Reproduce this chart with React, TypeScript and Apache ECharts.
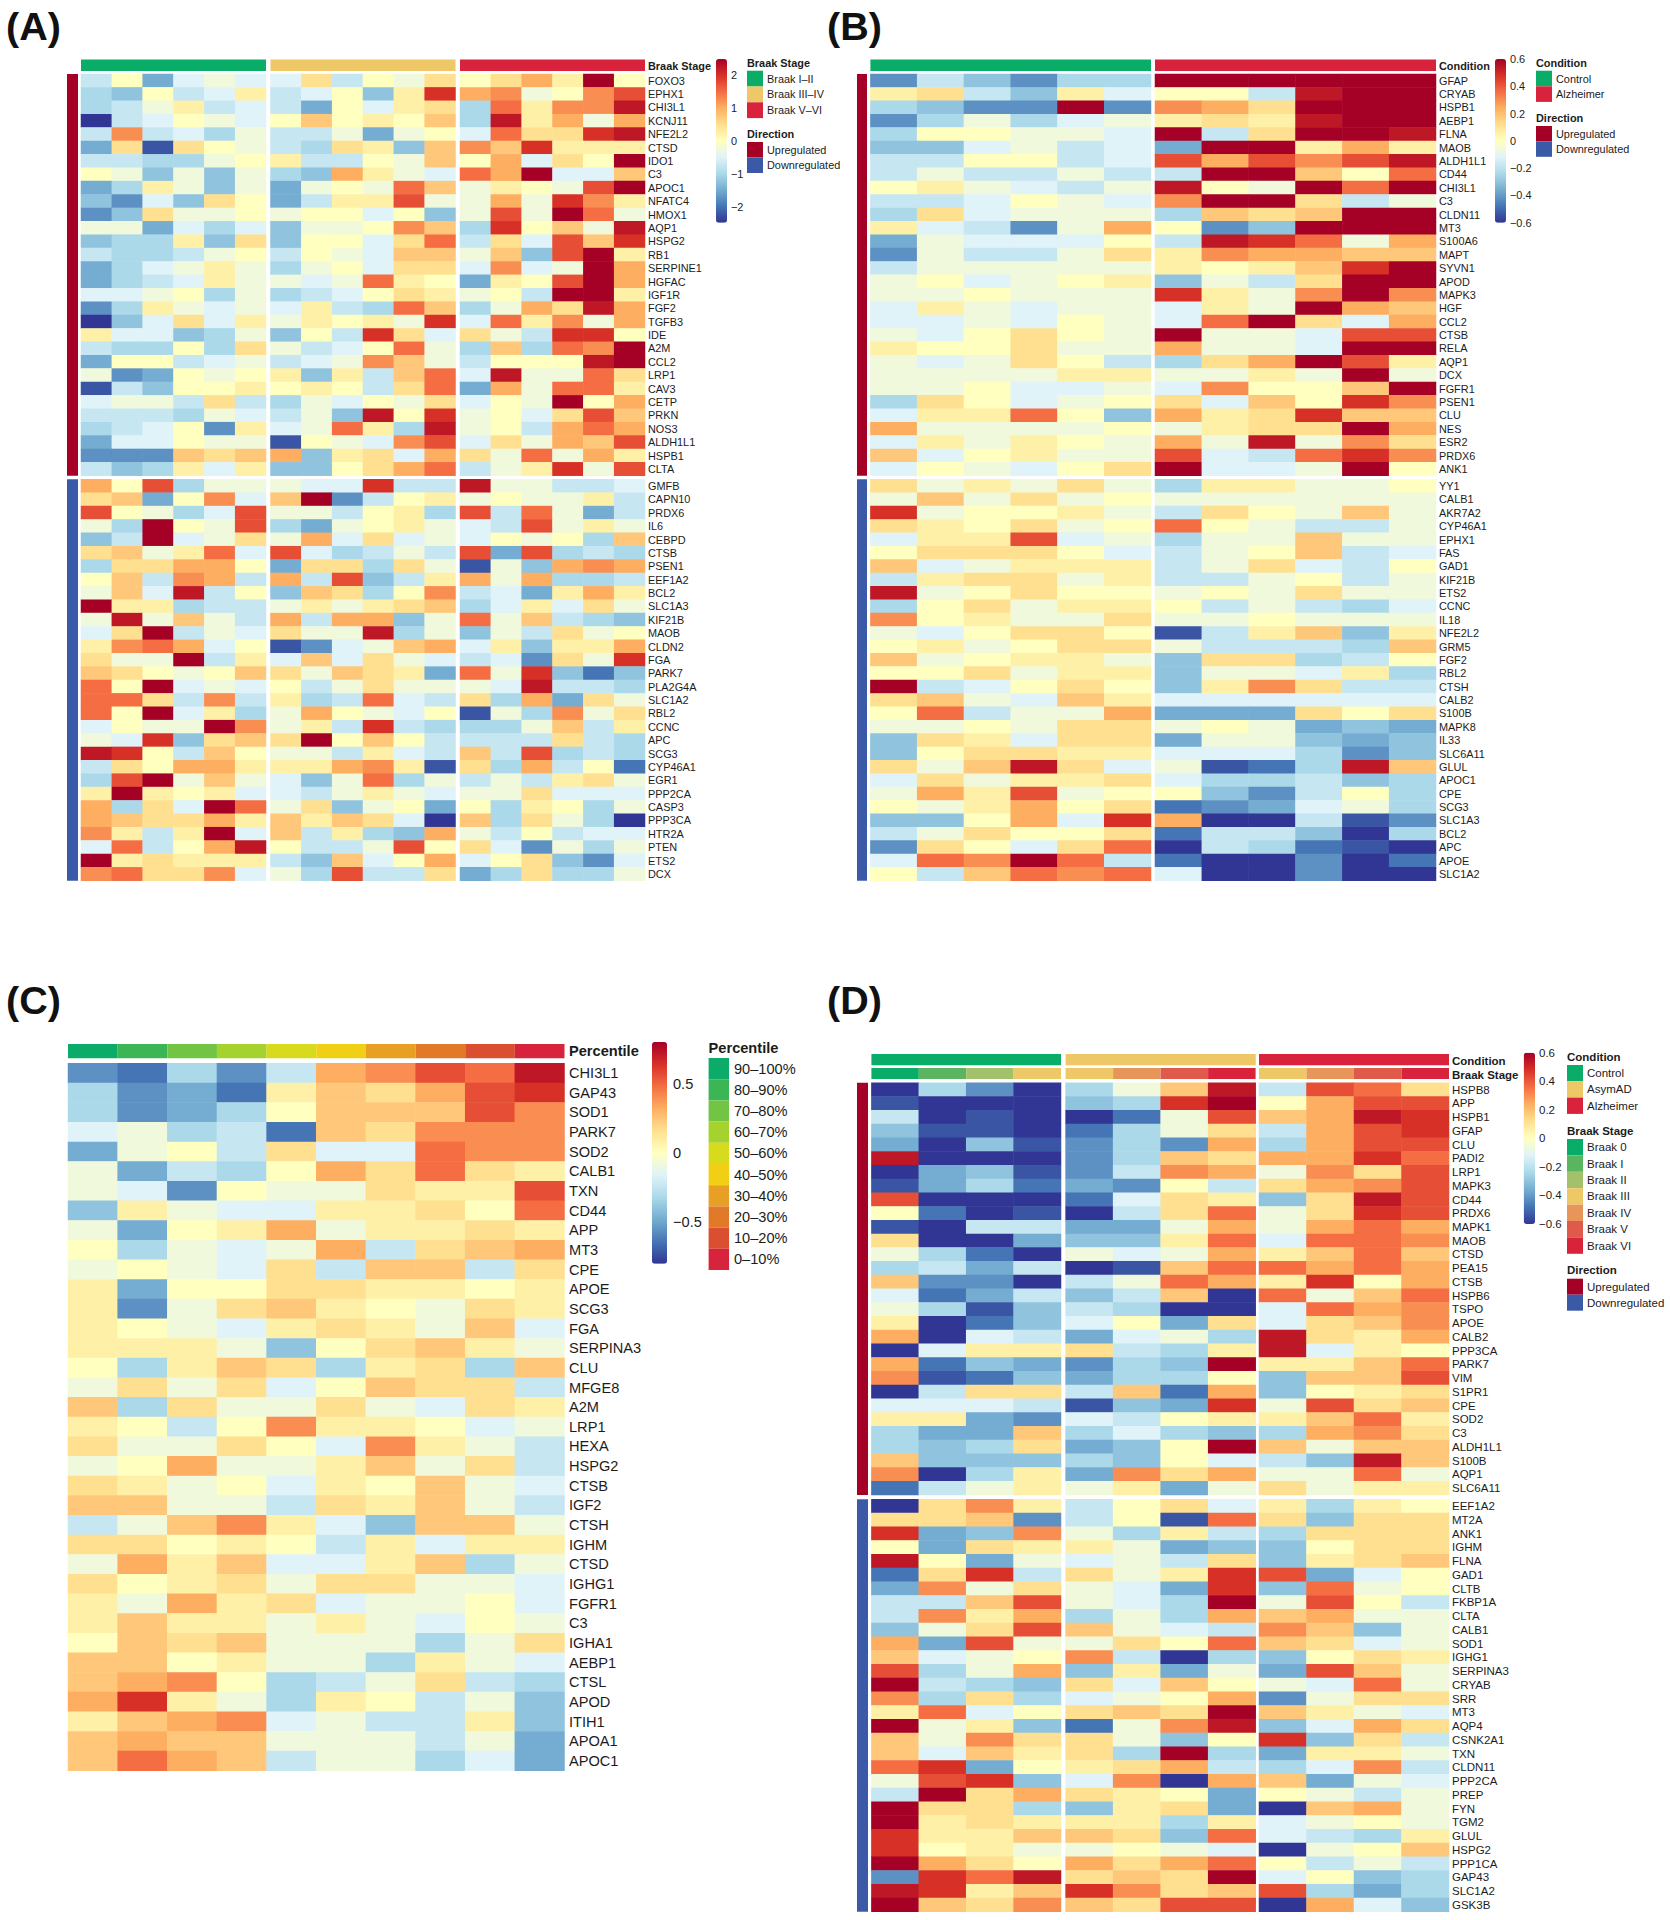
import React, { useEffect, useRef } from "react";
import * as echarts from "echarts";

const palette = ["#313695","#4575b4","#74add1","#abd9e9","#e0f3f8","#ffffbf","#fee090","#fdae61","#f46d43","#d73027","#a50026"];
const FONT = "Liberation Sans";
const INK = "#1c1c1c";
const UP = "#a50026";
const DOWN = "#3a5aa8";

const aUpGenes = ["FOXO3","EPHX1","CHI3L1","KCNJ11","NFE2L2","CTSD","IDO1","C3","APOC1","NFATC4","HMOX1","AQP1","HSPG2","RB1","SERPINE1","HGFAC","IGF1R","FGF2","TGFB3","IDE","A2M","CCL2","LRP1","CAV3","CETP","PRKN","NOS3","ALDH1L1","HSPB1","CLTA"];
const aUpLevels = [
[-3,0,-6,-2,-1,-2,-2,2,-3,0,-1,2,0,2,4,1,10,0],
[-4,-5,0,-3,-2,1,-3,-2,0,-5,1,8,4,5,-1,0,5,7],
[-4,-3,-1,1,-3,-2,-3,-6,0,-2,1,2,-4,6,1,5,5,9],
[-10,-3,-2,0,-1,-2,0,3,0,1,0,3,-4,9,1,4,-1,4],
[-3,5,-3,-2,-4,-1,-3,-3,-1,-6,-1,0,-2,6,2,2,8,9],
[-6,2,-9,2,0,-1,-3,-4,2,1,-5,3,5,3,8,1,1,1],
[-3,-3,-4,-4,-1,0,1,-3,-3,0,-1,3,0,4,-2,2,0,10],
[0,-1,-5,-1,-5,-1,-4,-5,4,1,-1,-2,6,4,10,-2,-2,3],
[-6,-4,1,-1,-5,-1,-6,-1,0,-1,6,3,-1,1,0,-1,7,10],
[-5,-7,-2,-5,2,0,-6,-3,1,1,7,-1,-1,4,-1,8,5,1],
[-7,-5,2,-1,-1,0,-1,0,0,-2,0,-5,-1,7,-1,10,6,-1],
[-1,-1,-6,-2,-4,-2,-5,-1,-1,0,5,3,-4,8,0,3,-1,9],
[-5,-4,-4,1,-5,2,-5,0,0,-2,2,6,-3,2,-2,7,3,8],
[-3,-4,-4,-3,-1,0,-3,0,-1,-2,3,3,-1,3,-5,7,10,1],
[-6,-4,-2,-1,1,-1,-4,-1,0,-2,2,2,-2,5,-2,-1,10,4],
[-6,-4,-3,-2,1,-1,-1,-2,-1,6,1,0,-6,1,0,7,10,4],
[-2,-2,-1,0,-4,-1,-4,-3,-2,0,2,1,-1,0,-3,10,10,1],
[-7,-4,1,-1,-2,-1,-2,1,-3,-4,6,3,-4,-1,4,2,9,4],
[-10,-5,-2,2,-2,1,-1,1,0,1,-1,8,-2,6,1,5,-1,4],
[1,-2,-2,-5,-4,-1,-5,0,-3,8,2,-2,2,-1,-3,8,8,0],
[-3,-4,-4,0,-4,2,-1,-3,-2,0,6,-1,-4,3,-4,6,5,10],
[-6,0,0,-3,-2,-1,-3,-2,-1,5,3,-1,-3,0,0,0,9,10],
[-1,-7,-6,0,-1,0,1,-5,1,-3,3,6,-2,9,-1,-1,6,2],
[-9,-3,-5,0,0,1,0,1,0,-3,2,6,-6,4,-1,6,6,1],
[-2,-1,-1,-3,2,-3,-4,-1,-2,0,-1,2,-2,0,-1,10,0,4],
[-3,-3,-3,-4,-1,-2,-3,-1,-5,9,0,8,-1,0,-2,2,7,3],
[-4,-3,-2,0,-7,1,-2,-1,6,1,-4,9,-1,0,-3,4,6,4],
[-6,-2,-2,0,-1,-1,-9,0,-1,-2,5,7,-2,2,-1,4,3,7],
[-7,-7,-7,3,2,3,4,-5,1,2,-2,4,2,-1,6,-1,4,1],
[-3,-5,-4,1,-2,1,-5,-5,0,2,4,6,-3,-1,1,8,-1,7],
];
const aDownGenes = ["GMFB","CAPN10","PRDX6","IL6","CEBPD","CTSB","PSEN1","EEF1A2","BCL2","SLC1A3","KIF21B","MAOB","CLDN2","FGA","PARK7","PLA2G4A","SLC1A2","RBL2","CCNC","APC","SCG3","CYP46A1","EGR1","PPP2CA","CASP3","PPP3CA","HTR2A","PTEN","ETS2","DCX"];
const aDownLevels = [
[4,0,7,-4,-1,-1,-1,-2,-2,8,-3,-3,9,-1,-1,-3,-3,-2],
[2,3,-6,0,5,-2,3,10,-7,-3,0,1,-1,0,-1,-1,1,-3],
[7,0,-1,-4,-2,7,-1,-1,-3,0,1,-4,7,-3,6,-1,-6,-3],
[-1,-4,10,0,-1,7,-4,-6,-1,0,1,-1,-2,-3,7,-1,1,-1],
[-5,-3,10,-2,-1,2,-1,4,-2,2,-2,-1,-2,0,-1,0,-4,3],
[2,3,-1,1,6,-2,7,-2,-4,-3,-1,-3,7,-6,7,-4,-3,-4],
[-4,2,2,4,4,0,-6,2,2,-4,2,-1,-9,-1,-5,4,5,4],
[0,3,-3,5,4,-3,4,-3,7,-5,-3,1,4,-1,4,-4,-4,-3],
[-1,3,-2,9,-3,0,-5,3,2,-4,0,5,-3,-2,-6,1,4,1],
[10,1,1,-4,-3,-3,-1,1,-1,1,2,3,-4,-2,1,-2,2,-1],
[-1,9,-1,3,-1,-3,4,-3,4,4,-5,-1,6,-1,3,-3,-4,-5],
[-2,2,10,-3,-1,-2,2,-1,-1,9,-4,-1,-5,-1,-3,2,-1,0],
[1,5,6,4,-2,0,-9,-7,-2,-1,3,4,-2,1,-5,1,1,4],
[2,-1,-1,10,-3,1,-2,3,-2,2,-1,-2,-3,-2,-7,2,-1,8],
[3,2,0,-1,0,3,2,-1,3,2,1,-6,6,-1,8,-5,-8,-5],
[6,0,10,-2,-1,-2,0,-3,-1,2,-1,-1,-1,-2,9,-3,-3,-4],
[6,6,2,-3,5,-3,1,-4,-3,6,-2,-3,2,-4,4,-6,2,-1],
[6,0,10,-2,1,-4,-1,4,0,-1,-2,0,-9,-1,-4,5,-1,2],
[-2,0,-1,-1,10,5,-1,1,-3,8,-3,-4,-4,-4,-1,3,-3,1],
[-1,-2,8,-5,2,3,2,10,0,3,0,-3,-3,-3,-3,2,-3,-4],
[9,8,0,-3,3,0,-1,-1,-3,1,-2,-3,3,-3,7,-4,-3,-4],
[-3,2,0,4,4,1,1,1,4,5,1,-9,2,-4,4,-3,0,-8],
[-4,7,10,-1,3,-1,-2,-5,-1,6,-4,-1,-3,-1,-3,1,2,-1],
[1,10,1,0,1,-2,-2,-3,-1,1,-1,-2,-1,-1,2,-2,-2,-2],
[4,-4,2,-2,10,6,-1,2,-5,-1,0,-6,0,-4,1,0,-4,-1],
[4,3,2,2,4,1,3,1,3,2,-2,-10,3,-4,2,-1,-4,-10],
[5,1,-3,1,10,-2,3,-3,1,-4,-5,4,-1,-3,0,-3,-2,-2],
[-2,6,-3,0,4,9,0,-3,-3,-1,7,0,2,-2,-7,-1,-4,-1],
[10,1,2,1,1,1,-3,-5,3,-2,0,4,-2,0,2,-5,-7,-2],
[5,6,2,2,5,-2,-1,-4,7,-3,-3,2,-6,-4,2,-4,-4,-1],
];
const bUpGenes = ["GFAP","CRYAB","HSPB1","AEBP1","FLNA","MAOB","ALDH1L1","CD44","CHI3L1","C3","CLDN11","MT3","S100A6","MAPT","SYVN1","APOD","MAPK3","HGF","CCL2","CTSB","RELA","AQP1","DCX","FGFR1","PSEN1","CLU","NES","ESR2","PRDX6","ANK1"];
const bUpLevels = [
[-7,-3,-5,-7,-4,-4,10,10,10,10,10,10],
[1,2,-3,-5,1,-2,0,0,-3,9,10,10],
[-4,-5,-7,-7,10,-7,5,4,2,10,10,10],
[-7,-4,-1,-4,-2,-1,1,2,1,9,10,10],
[-4,0,0,-1,-1,-2,10,-3,2,10,10,9],
[-5,-5,-2,-1,-3,-2,-6,10,10,1,4,1],
[-3,-3,0,0,-3,-2,7,4,7,5,7,9],
[-3,-1,-3,-3,-1,-3,-3,10,10,3,0,6],
[0,1,-1,-2,-3,-1,9,0,-1,10,6,10],
[-3,-3,-2,0,-1,-2,5,10,10,2,-3,-1],
[-4,2,-2,-1,-1,-1,-4,3,2,3,10,10],
[1,-2,-3,-7,-1,4,0,-7,-5,10,10,10],
[-6,-1,-2,-2,-2,0,-3,9,8,6,-1,4],
[-7,-1,-3,-3,-1,2,1,5,4,4,3,3],
[-3,-1,-1,-1,-1,-1,1,0,1,3,8,10],
[-1,0,-2,-1,0,1,-5,-1,-3,2,10,10],
[-1,-1,0,-1,-1,-1,8,1,-1,5,10,5],
[-2,1,-1,-2,-1,-1,-2,1,-1,10,4,3],
[-2,-2,-1,-2,0,-1,-2,6,10,2,-2,4],
[-1,-2,0,2,0,-1,10,-1,-1,-2,7,7],
[1,0,0,2,-1,-1,4,-1,-1,-2,10,10],
[-1,-2,-1,2,0,-3,-4,2,4,10,7,1],
[-1,-1,-1,-1,1,1,-1,-1,1,-1,10,-1],
[-1,-1,0,-2,-2,-1,-2,5,0,0,3,10],
[-4,2,0,-2,-1,0,2,-2,3,0,8,5],
[-2,1,1,6,0,-5,4,1,2,8,3,3],
[4,-1,-1,-1,-1,0,-1,1,2,2,10,4],
[-2,1,-1,1,0,-1,4,-1,9,-1,5,2],
[3,-2,0,1,-1,-1,7,-2,-3,6,8,5],
[-2,0,-1,-2,0,2,10,-2,-2,-1,10,0],
];
const bDownGenes = ["YY1","CALB1","AKR7A2","CYP46A1","EPHX1","FAS","GAD1","KIF21B","ETS2","CCNC","IL18","NFE2L2","GRM5","FGF2","RBL2","CTSH","CALB2","S100B","MAPK8","IL33","SLC6A11","GLUL","APOC1","CPE","SCG3","SLC1A3","BCL2","APC","APOE","SLC1A2"];
const bDownLevels = [
[2,-1,1,-1,2,-1,-4,1,1,-1,-1,0],
[-1,3,-1,2,-1,0,-1,-1,-1,-1,-1,-1],
[8,-1,0,0,1,-1,-3,2,0,-1,3,-1],
[2,1,0,2,-1,0,6,0,-1,-3,-3,-1],
[-2,1,1,7,-2,-1,-4,-1,-1,3,-1,-1],
[0,2,2,2,0,-2,-3,-1,0,3,-3,-2],
[3,-2,-1,1,1,1,-3,-1,2,-2,-3,0],
[-3,1,2,2,-1,1,-3,-3,-1,0,-3,-1],
[9,-1,0,2,0,0,-1,0,-1,2,-1,-1],
[-4,0,2,-1,1,1,0,-3,-1,-3,-4,-2],
[5,0,1,-1,-1,2,-1,-1,0,-1,-1,-1],
[-1,-2,0,2,2,0,-9,-3,1,3,-5,1],
[0,1,-1,0,2,2,-1,-3,-3,-3,-4,3],
[3,-1,0,1,1,-1,-5,2,2,-4,-3,0],
[0,0,2,-1,1,1,-5,-1,-1,-2,1,-4],
[10,-3,-2,0,2,0,-5,1,5,2,-3,-3],
[2,3,-1,-2,3,1,-2,-2,-2,-2,-2,-2],
[0,6,-3,-1,-1,4,-6,-6,-6,2,0,2],
[-1,-1,0,-1,2,2,-1,0,-1,-6,-5,-6],
[-5,2,1,-2,2,2,-6,-1,-1,-5,-6,-5],
[-5,0,2,2,1,1,-2,-2,-2,-4,-7,-5],
[2,-1,3,9,2,-2,-1,-9,-8,-4,9,3],
[-2,2,-1,1,1,2,-2,-4,-4,-3,-5,-4],
[-1,4,1,7,-1,0,0,-5,-7,-3,0,-4],
[0,-1,1,4,0,2,-8,-7,-6,-2,-1,-4],
[-5,-5,0,4,-2,8,4,-10,-10,-3,-9,-7],
[-3,-1,2,0,0,2,-8,-3,-3,-5,-10,-4],
[-7,2,0,-2,2,6,-10,-3,-4,-8,-9,-10],
[-2,6,5,10,6,-3,-8,-10,-10,-7,-10,-8],
[0,-3,3,6,5,6,-2,-10,-10,-7,-10,-10],
];
const cGenes = ["CHI3L1","GAP43","SOD1","PARK7","SOD2","CALB1","TXN","CD44","APP","MT3","CPE","APOE","SCG3","FGA","SERPINA3","CLU","MFGE8","A2M","LRP1","HEXA","HSPG2","CTSB","IGF2","CTSH","IGHM","CTSD","IGHG1","FGFR1","C3","IGHA1","AEBP1","CTSL","APOD","ITIH1","APOA1","APOC1"];
const cLevels = [
[-7,-8,-4,-7,-3,4,5,7,6,9],
[-4,-7,-6,-8,1,3,2,4,7,8],
[-4,-7,-6,-4,0,3,3,3,7,5],
[-2,-1,-4,-3,-8,3,2,5,5,5],
[-6,-1,0,-3,2,-2,-2,6,5,5],
[-1,-6,-3,-4,0,4,2,6,2,1],
[-1,-2,-7,0,-1,-1,2,1,1,7],
[-5,1,-1,-2,-2,1,1,2,0,6],
[-1,-6,0,1,4,-1,1,1,2,1],
[0,-4,-1,-2,-1,4,-3,2,3,4],
[-1,0,-1,-2,2,-3,3,3,-3,2],
[1,-6,0,0,2,2,1,1,0,1],
[1,-7,-1,2,3,1,0,-1,2,1],
[1,0,-1,-2,1,2,1,-1,3,-2],
[1,1,1,-1,-5,0,2,3,1,-1],
[0,-4,1,3,2,-4,1,2,-4,3],
[-1,2,-1,2,-2,0,3,2,2,-3],
[3,-4,2,-1,-1,2,-1,-2,2,1],
[1,0,-3,0,5,1,1,0,-2,-1],
[2,-1,-1,2,0,-2,5,1,-1,-3],
[-1,0,4,-1,-1,1,3,-1,2,-3],
[2,1,-1,0,-2,1,0,3,-1,-2],
[3,3,-1,-1,-3,2,1,3,-1,-3],
[-3,-1,3,5,1,-2,-5,3,3,-1],
[2,2,0,1,0,-3,1,-2,1,1],
[-1,4,1,3,-2,-2,1,3,-4,-1],
[2,0,1,2,-1,2,2,-1,-1,-2],
[1,-1,4,1,2,-2,-1,-1,0,-2],
[1,3,1,1,-1,1,-1,-2,0,-1],
[0,3,2,3,-1,-1,-1,-4,-1,2],
[3,3,0,1,-1,-1,-4,1,-1,-2],
[3,4,5,0,-4,-3,-1,2,-3,-4],
[4,8,1,-1,-4,1,0,-3,-1,-5],
[1,3,4,5,-2,-1,-3,-3,1,-5],
[3,4,3,3,-1,-1,-1,-3,-1,-6],
[3,6,4,3,-3,-1,-1,-4,-2,-6],
];
const dUpGenes = ["HSPB8","APP","HSPB1","GFAP","CLU","PADI2","LRP1","MAPK3","CD44","PRDX6","MAPK1","MAOB","CTSD","PEA15","CTSB","HSPB6","TSPO","APOE","CALB2","PPP3CA","PARK7","VIM","S1PR1","CPE","SOD2","C3","ALDH1L1","S100B","AQP1","SLC6A11"];
const dUpLevels = [
[-10,-4,-7,-10,-4,-1,3,9,-3,7,6,2],
[-9,-10,-10,-10,-5,-4,8,10,0,4,7,7],
[-3,-10,-9,-10,-10,-8,-1,7,3,4,9,8],
[-5,-9,-9,-10,-8,-4,-1,2,-3,4,7,8],
[-6,-10,-5,-9,-7,-4,-7,4,-4,4,7,7],
[9,-10,-10,-10,-7,-4,3,2,4,4,8,6],
[-10,-6,-5,-9,-7,-3,5,4,-1,5,2,7],
[-9,-6,-4,-8,-6,-7,0,-3,2,4,5,7],
[7,-10,-10,-10,-8,-2,2,1,-5,2,9,7],
[0,-8,-10,-9,-10,-3,2,6,-1,2,8,7],
[-9,-10,-3,-3,-6,-6,-1,4,-1,4,6,4],
[2,-10,-10,-6,-5,-5,1,6,-2,6,6,5],
[-1,-4,-8,-10,-1,-2,-1,4,1,3,6,3],
[-4,-3,-6,-3,-10,-9,3,6,6,4,6,4],
[3,-7,-7,-10,-3,-1,6,4,1,8,0,4],
[-2,-8,-6,-3,-5,-3,3,-10,6,-1,3,6],
[-1,-4,-9,-5,-3,-4,-10,-10,-2,6,4,5],
[1,-10,-8,-5,-2,0,-6,2,-2,2,3,5],
[4,-10,-2,-3,-6,-2,-1,-4,9,2,1,4],
[-10,-2,1,1,2,-3,-4,1,9,-2,1,0],
[4,-8,-5,-6,-7,-4,-5,10,1,1,3,6],
[5,-9,-8,-5,-6,-4,-4,0,-5,3,3,7],
[-10,-3,2,2,-3,3,-8,4,-5,0,1,2],
[-2,-2,-2,-3,-9,-5,-6,8,-1,7,2,3],
[1,1,-6,-7,-2,-3,0,1,1,3,6,1],
[-4,-6,-6,3,-4,-2,-4,-5,-4,4,5,2],
[-4,-5,-4,2,-6,-5,0,10,3,-1,3,3],
[3,-5,-5,-5,-4,-5,0,-2,-3,-5,9,3],
[5,-10,-4,1,-6,5,2,4,-1,-1,6,-1],
[-8,-3,-1,1,-1,1,-6,-1,2,-1,1,1],
];
const dDownGenes = ["EEF1A2","MT2A","ANK1","IGHM","FLNA","GAD1","CLTB","FKBP1A","CLTA","CALB1","SOD1","IGHG1","SERPINA3","CRYAB","SRR","MT3","AQP4","CSNK2A1","TXN","CLDN11","PPP2CA","PREP","FYN","TGM2","GLUL","HSPG2","PPP1CA","GAP43","SLC1A2","GSK3B"];
const dDownLevels = [
[-10,2,5,1,-3,0,2,-2,1,-4,1,0],
[2,2,3,-7,-3,0,-9,6,2,-5,2,2],
[8,-6,-5,5,-1,-4,1,-3,-4,2,2,2],
[0,-6,2,1,1,-1,-6,-5,-5,0,2,2],
[9,0,-6,-1,-2,-1,-3,2,-5,1,2,3],
[-8,2,8,-3,2,-1,1,8,7,-6,-2,0],
[-6,5,-1,2,-1,-2,-6,8,-5,6,-1,0],
[-3,-3,3,7,-1,-2,-4,10,-1,7,0,-3],
[-3,5,1,4,-4,-1,-4,4,3,4,-1,-1],
[-5,-1,2,7,3,-1,-2,-3,5,3,-5,-1],
[4,-6,7,-1,-1,2,0,6,3,2,-2,-1],
[3,-2,-1,0,5,-3,-10,-4,-5,0,2,1],
[7,-4,-1,4,-5,1,-6,-1,-6,7,3,-1],
[10,-3,-4,-5,2,-2,3,0,-1,-2,6,-1],
[5,-4,2,-4,-2,-1,0,4,-7,-1,2,2],
[1,6,-2,0,2,3,2,10,3,1,-1,-2],
[10,-1,1,-5,-8,-1,5,9,-5,-2,4,2],
[3,-1,5,2,2,-1,-5,0,8,-5,2,-3],
[3,-2,3,1,2,-4,10,-4,-6,1,1,-1],
[6,8,-6,0,1,2,4,-3,-4,-2,5,-3],
[-1,7,8,-5,-2,5,-10,4,3,-6,-1,-2],
[-3,10,2,4,2,1,0,-6,0,-1,-3,-1],
[10,2,2,-4,-5,1,2,-6,-10,3,4,-1],
[10,1,2,1,1,1,-4,1,-2,-1,0,-1],
[8,1,1,3,3,2,-5,6,-2,-3,-4,1],
[8,0,1,-1,-1,0,-1,-2,-10,-1,0,3],
[10,4,2,0,4,2,4,6,0,-3,-1,-3],
[-7,8,6,9,2,3,2,10,-2,0,-5,-4],
[9,8,1,3,8,5,2,3,7,-4,-6,-4],
[10,3,2,5,3,2,7,7,-10,4,-2,-5],
];

const percentileBands = ["90–100%","80–90%","70–80%","60–70%","50–60%","40–50%","30–40%","20–30%","10–20%","0–10%"];
const percentileColors = ["#0cab69","#3cb655","#72c544","#a6d22e","#d8da1c","#f0cf14","#e8a024","#e07a28","#da4f30","#d7233c"];
const braakStages = ["Braak 0","Braak I","Braak II","Braak III","Braak IV","Braak V","Braak VI"];
const braakColors = ["#0aad68","#5bb560","#a3c06a","#eec866","#e8955a","#e05a4c","#d9233c"];
const groupColors = ["#0aad68","#eec866","#d9233c"];

const panels = [
  { letter: "(A)", lx: 6, ly: 26, max: 2.48, fs: 10.9, margin: 3,
    cols: [[81,266,6],[270.5,455.5,6],[460,645,6]],
    rows: [[74,475.7,aUpGenes,aUpLevels],[479.3,880.7,aDownGenes,aDownLevels]],
    dir: [67,78],
    tracks: [{ name:"Braak Stage", y0:59.5, y1:71, cells:[[81,266,groupColors[0]],[270.5,455.5,groupColors[1]],[460,645,groupColors[2]]] }],
    bar: { x:716, w:11, y:59, h:163.7, ticks:[2,1,0,-1,-2], tickX:731 },
    legends: [
      { title:"Braak Stage", x:747, ty:63, by:70.7, bh:15.8, bw:16, tx:767, items:["Braak I–II","Braak III–IV","Braak V–VI"], colors:groupColors },
      { title:"Direction", x:747, ty:134, by:142, bh:15.5, bw:16, tx:767, items:["Upregulated","Downregulated"], colors:[UP,DOWN] },
    ] },
  { letter: "(B)", lx: 827, ly: 26, max: 0.6, fs: 10.9, margin: 3,
    cols: [[870.4,1151,6],[1155,1436,6]],
    rows: [[74,475.7,bUpGenes,bUpLevels],[479.3,880.7,bDownGenes,bDownLevels]],
    dir: [857,867],
    tracks: [{ name:"Condition", y0:59.5, y1:71, cells:[[870.4,1151,groupColors[0]],[1155,1436,groupColors[2]]] }],
    bar: { x:1495, w:11, y:59, h:163.7, ticks:[0.6,0.4,0.2,0,-0.2,-0.4,-0.6], tickX:1510 },
    legends: [
      { title:"Condition", x:1536, ty:63, by:70.7, bh:15.6, bw:16, tx:1556, items:["Control","Alzheimer"], colors:[groupColors[0],groupColors[2]] },
      { title:"Direction", x:1536, ty:118, by:126, bh:15.4, bw:16, tx:1556, items:["Upregulated","Downregulated"], colors:[UP,DOWN] },
    ] },
  { letter: "(C)", lx: 6, ly: 1000, max: 0.8, fs: 14.6, margin: 4.5,
    cols: [[68,564.5,10]],
    rows: [[1063.3,1770.7,cGenes,cLevels]],
    dir: null,
    tracks: [{ name:"Percentile", y0:1044, y1:1058.3, cells: percentileColors.map((c,i)=>[68+i*49.65,68+(i+1)*49.65,c]) }],
    bar: { x:652, w:15, y:1042, h:221.7, ticks:[0.5,0,-0.5], tickX:673 },
    legends: [
      { title:"Percentile", x:708.6, ty:1048, by:1058, bh:21.2, bw:20.5, tx:734, items:percentileBands, colors:percentileColors },
    ] },
  { letter: "(D)", lx: 827, ly: 1000, max: 0.6, fs: 11.5, margin: 3,
    cols: [[871.4,1061,4],[1065.6,1255.7,4],[1259,1449,4]],
    rows: [[1082.7,1495,dUpGenes,dUpLevels],[1499.3,1911.7,dDownGenes,dDownLevels]],
    dir: [857,868],
    tracks: [
      { name:"Condition", y0:1054, y1:1065.3, cells:[[871.4,1061,groupColors[0]],[1065.6,1255.7,groupColors[1]],[1259,1449,groupColors[2]]] },
      { name:"Braak Stage", y0:1068, y1:1079, cells:[
        ...[0,1,2,3].map(i=>[871.4+i*47.4,871.4+(i+1)*47.4,braakColors[i]]),
        ...[3,4,5,6].map(i=>[1065.6+(i-3)*47.5,1065.6+(i-2)*47.5,braakColors[i]]),
        ...[3,4,5,6].map(i=>[1259+(i-3)*47.5,1259+(i-2)*47.5,braakColors[i]]),
      ] },
    ],
    bar: { x:1523.7, w:11.3, y:1052.7, h:171.3, ticks:[0.6,0.4,0.2,0,-0.2,-0.4,-0.6], tickX:1539 },
    legends: [
      { title:"Condition", x:1567, ty:1057, by:1065, bh:16.3, bw:16, tx:1587, items:["Control","AsymAD","Alzheimer"], colors:groupColors },
      { title:"Braak Stage", x:1567, ty:1131, by:1139, bh:16.4, bw:16, tx:1587, items:braakStages, colors:braakColors },
      { title:"Direction", x:1567, ty:1270, by:1278.7, bh:16, bw:16, tx:1587, items:["Upregulated","Downregulated"], colors:[UP,DOWN] },
    ] },
];

function buildOption() {
  const grid: any[] = [], xAxis: any[] = [], yAxis: any[] = [], series: any[] = [], visualMap: any[] = [], graphic: any[] = [];
  const txt = (text: string, x: number, y: number, fontSize: number, fontWeight = "normal") => ({
    type: "text", x, y, silent: true,
    style: { text, fontSize, fontWeight, fontFamily: FONT, fill: INK, textVerticalAlign: "middle", textAlign: "left" },
  });
  const box = (x: number, y: number, width: number, height: number, fill: string) => ({
    type: "rect", silent: true, shape: { x, y, width, height }, style: { fill },
  });
  panels.forEach((p: any) => {
    graphic.push({ type: "text", x: p.lx, y: p.ly, silent: true, style: { text: p.letter, fontSize: 39.5, fontWeight: "bold", fontFamily: FONT, fill: "#111", textVerticalAlign: "middle" } });
    const own: number[] = [];
    p.rows.forEach(([top, bottom, genes, levels]: any, r: number) => {
      if (p.dir) graphic.push(box(p.dir[0], top, p.dir[1] - p.dir[0], bottom - top, r === 0 ? UP : DOWN));
      let start = 0;
      p.cols.forEach(([left, right, n]: any, c: number) => {
        const idx = grid.length;
        grid.push({ left, width: right - left, top, height: bottom - top, containLabel: false });
        xAxis.push({ type: "category", gridIndex: idx, show: false, data: Array.from({ length: n }, (_, i) => i) });
        const labelled = c === p.cols.length - 1;
        yAxis.push({
          type: "category", gridIndex: idx, inverse: true, data: genes, position: "right",
          axisLine: { show: false }, axisTick: { show: false }, splitLine: { show: false },
          axisLabel: { show: labelled, interval: 0, margin: p.margin, fontSize: p.fs, fontFamily: FONT, color: INK, hideOverlap: false },
        });
        const data: any[] = [];
        levels.forEach((row: number[], y: number) => {
          for (let x = 0; x < n; x++) data.push([x, y, (row[start + x] / 10) * p.max]);
        });
        own.push(series.length);
        series.push({ type: "heatmap", xAxisIndex: idx, yAxisIndex: idx, data, silent: true, progressive: 0, emphasis: { disabled: true } });
        start += n;
      });
    });
    visualMap.push({
      type: "continuous", show: true, calculable: false, hoverLink: false, seriesIndex: own,
      min: -p.max, max: p.max, inRange: { color: palette }, orient: "vertical",
      left: p.bar.x, top: p.bar.y, itemWidth: p.bar.w, itemHeight: p.bar.h, padding: 0, text: null, showLabel: false,
    });
    const big = p.fs > 12;
    p.bar.ticks.forEach((t: number) => {
      const y = p.bar.y + ((p.max - t) / (2 * p.max)) * p.bar.h;
      const s = t < 0 ? "\u2212" + Math.abs(t) : String(t);
      graphic.push(txt(s, p.bar.tickX, y, p.fs));
    });
    p.tracks.forEach((t: any) => {
      t.cells.forEach(([a, b, col]: any) => graphic.push(box(a, t.y0, b - a, t.y1 - t.y0, col)));
      const lastRight = p.cols[p.cols.length - 1][1];
      graphic.push(txt(t.name, lastRight + p.margin, (t.y0 + t.y1) / 2 + (big ? 0 : 1), p.fs, "bold"));
    });
    p.legends.forEach((l: any) => {
      graphic.push(txt(l.title, l.x, l.ty, p.fs, "bold"));
      l.items.forEach((it: string, i: number) => {
        graphic.push(box(l.x, l.by + i * l.bh, l.bw, l.bh, l.colors[i]));
        graphic.push(txt(it, l.tx, l.by + (i + 0.5) * l.bh, p.fs));
      });
    });
  });
  return { animation: false, backgroundColor: "#fff", grid, xAxis, yAxis, series, visualMap, graphic };
}

export default function App() {
  const ref = useRef<HTMLDivElement>(null);
  useEffect(() => {
    const chart = echarts.init(ref.current!, null, { renderer: "svg" });
    chart.setOption(buildOption() as any);
    return () => chart.dispose();
  }, []);
  return <div ref={ref} style={{ position: "absolute", left: 0, top: 0, width: 1670, height: 1920 }} />;
}
